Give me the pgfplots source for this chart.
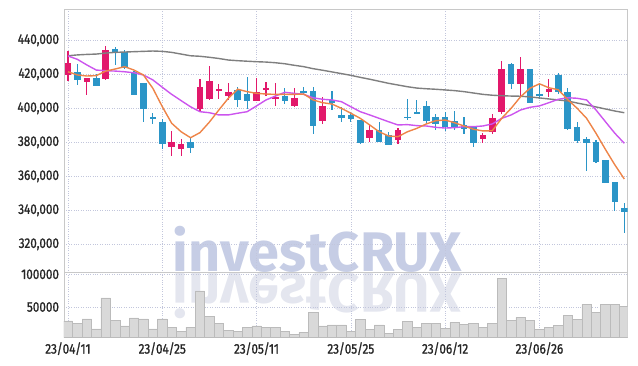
\documentclass[border=0pt]{standalone}
\usepackage{fontspec}
\setmainfont{Fira Sans}[FakeStretch=0.84, FakeBold=1.2]
\newfontfamily\wmfont{Fira Sans Bold}
\usepackage{pgfplots}
\pgfplotsset{compat=1.18}
\usepackage{pgfplotstable}
\definecolor{upc}{HTML}{E2186B}
\definecolor{dnc}{HTML}{2B95C7}
\definecolor{ma5c}{HTML}{EE8448}
\definecolor{ma20c}{HTML}{CC55EE}
\definecolor{ma60c}{HTML}{7F7F7F}
\definecolor{gridc}{HTML}{C2C6DC}
\definecolor{framec}{HTML}{C8C8C8}
\definecolor{wm}{HTML}{C6CDE5}
\definecolor{wmr}{HTML}{E4E6EF}
\definecolor{volf}{HTML}{D9D9D9}
\definecolor{vold}{HTML}{BBBBBB}

\pgfplotstableread{
i o h l c
0 419600 433700 416200 426800
2 415700 417800 407800 417700
4 417200 436700 416800 434300
11 377100 386800 372100 380200
12 375900 381800 372100 379000
14 399400 417100 398000 412400
15 405700 424900 405100 416100
16 410200 414300 405300 411400
17 407400 414700 404900 409400
20 404500 417700 404300 409600
21 410800 415500 407100 411900
22 405800 414700 401400 406300
24 401400 411800 401000 406100
27 392700 406500 390800 401400
32 382700 390200 380400 387200
35 381400 388600 378800 387200
44 382100 385700 379400 384300
45 386200 396500 384700 394100
46 397800 428000 396500 422900
48 414500 430000 407200 422900
51 409800 417100 406500 411400
}\up

\pgfplotstableread{
i o h l c
1 421500 426100 413500 416700
3 417700 420200 413100 413300
5 435100 436200 425300 432900
6 433300 434300 423300 423500
7 421200 422100 407800 408000
8 414700 414900 391800 399400
9 395100 397100 390800 393900
10 391900 393700 375900 379200
13 380200 382900 373500 376800
18 410800 412400 400900 404900
19 408400 418200 399400 404500
23 407200 411800 402500 404500
25 410400 412400 407800 408800
26 410200 412400 384700 389600
28 404900 410200 399000 402900
29 396100 400900 392100 394500
30 395900 398000 391900 393700
31 393100 393200 378900 379400
33 387200 391900 380200 380400
34 384500 386100 378400 378600
36 395100 405300 393100 394100
37 397700 404900 396700 397100
38 401400 404500 390800 392700
39 394600 396700 387200 390500
40 394900 398000 386800 389200
41 392500 398400 387200 388400
42 390200 394700 384900 388000
43 389200 389300 377400 379800
47 426100 426700 411200 414500
49 422900 423100 402900 403300
50 408400 414700 405300 407000
52 419600 420600 408400 409400
53 409600 411800 387200 387800
54 389000 391800 379800 381000
55 382000 382900 363100 379800
56 380200 381400 367700 368400
57 369600 369700 355900 356200
58 356700 356700 339800 345100
59 341400 344500 326500 339100
}\dn

\pgfplotstableread{
i v m5 m20 m60
0 28600 421500 430800 430900
1 25500 419600 428800 431400
2 31700 419000 425500 431700
3 16400 419200 422500 431900
4 63800 421900 422100 432500
5 30100 423100 421900 432900
6 21000 424500 421500 433100
7 33200 422500 420900 433300
8 31700 419600 419600 433500
9 16400 411800 416700 433700
10 31700 401000 412400 433500
11 19400 391200 408200 432900
12 13300 386200 404500 431900
13 19400 382700 400900 430900
14 74500 385700 398000 430600
15 36200 391900 397400 430000
16 25000 399000 396100 429300
17 14400 405900 396100 428400
18 12800 411200 397100 428000
19 19400 409800 398000 427700
20 21000 408800 401400 427400
21 19400 408400 404900 427200
22 19400 408200 407200 426800
23 12800 408200 409400 426200
24 8700 408200 408800 425300
25 11300 408400 408200 424500
26 41900 404900 406200 423300
27 21000 403300 405300 422400
28 22500 402500 404900 421400
29 22500 400000 403900 420400
30 12800 397100 400900 419400
31 31200 394100 398000 418200
32 15900 390200 396100 417100
33 22500 386200 394100 415900
34 9800 383700 392100 414700
35 15900 383300 390200 413700
36 28100 386200 390400 412700
37 19000 388200 389800 411900
38 25100 390800 389600 411500
39 25100 392700 388800 411200
40 17400 393100 388400 410800
41 26600 391500 388600 410400
42 23600 389600 389200 409800
43 25100 387700 389200 409000
44 19000 386700 389600 408200
45 25100 386800 390800 407700
46 93900 394100 394100 407400
47 29700 400000 396100 407200
48 34300 406800 399000 407100
49 29700 411800 400600 406700
50 15900 414400 401400 406100
51 19000 412100 403300 405500
52 22000 410900 405300 404900
53 37300 405100 406200 404300
54 31200 400000 405900 403100
55 54100 394100 404900 402000
56 41900 385300 399000 400800
57 54100 375800 392100 399600
58 54100 366700 385300 398400
59 51100 358400 379400 397400
}\ma

\pgfplotsset{
  cstyle/.style={
    scale only axis, width=563.6bp,
    xmin=-0.42, xmax=59.35,
    axis line style={framec, line width=0.8bp},
    grid=major,
    major grid style={gridc, dotted, line width=0.6bp},
    major tick length=0pt,
    tick label style={font=\fontsize{14}{14}\selectfont, text=black!85},
    /pgf/number format/assume math mode=true,
    xtick={0,10,...,50},
    scaled y ticks=false,
    yticklabel style={xshift=-1.5bp},
    xticklabel style={yshift=-1.5bp},
  },
  wick/.style={mark=none, draw=none, forget plot,
    error bars/.cd, y dir=both, y explicit, error mark=none,
    error bar style={draw=#1, solid, line width=1.2bp}},
  body/.style={mark=none, draw=none, forget plot,
    error bars/.cd, y dir=both, y explicit, error mark=none,
    error bar style={draw=#1, solid, line width=6.6bp}},
}

\begin{document}
\begin{tikzpicture}
\useasboundingbox (-64bp,9bp) rectangle (574bp,-357bp);
\node[anchor=base, text=wm, font=\wmfont\fontsize{56}{56}\selectfont, inner sep=0pt] at (253.5bp,-262.5bp) {investCRUX};
\node[anchor=base, yscale=-1, text=wmr, font=\wmfont\fontsize{56}{56}\selectfont, inner sep=0pt] at (253.5bp,-264.5bp) {investCRUX};

\begin{axis}[cstyle, at={(0,0)}, anchor=north west,
  height=263.3bp, ymin=303530, ymax=458410,
  ytick={320000,340000,...,440000},
  yticklabel style={/pgf/number format/.cd, fixed, 1000 sep={,}},
  xticklabels={}]
\addplot[wick=dnc] table[x=i, y expr={(\thisrow{h}+\thisrow{l})/2}, y error expr={(\thisrow{h}-\thisrow{l})/2}] {\dn};
\addplot[body=dnc] table[x=i, y expr={(\thisrow{o}+\thisrow{c})/2}, y error expr={max(abs(\thisrow{o}-\thisrow{c})/2,500)}] {\dn};
\addplot[wick=upc] table[x=i, y expr={(\thisrow{h}+\thisrow{l})/2}, y error expr={(\thisrow{h}-\thisrow{l})/2}] {\up};
\addplot[body=upc] table[x=i, y expr={(\thisrow{o}+\thisrow{c})/2}, y error expr={max(abs(\thisrow{o}-\thisrow{c})/2,500)}] {\up};
\addplot[ma60c, line width=1.4bp, mark=none] table[x=i, y=m60] {\ma};
\addplot[ma20c, line width=1.4bp, mark=none] table[x=i, y=m20] {\ma};
\addplot[ma5c, line width=1.4bp, mark=none] table[x=i, y=m5] {\ma};
\end{axis}

\begin{axis}[cstyle, at={(0,-263.3bp)}, anchor=north west,
  height=65bp, ymin=3670, ymax=103060,
  ytick={50000,100000},
  yticklabel style={/pgf/number format/.cd, fixed, 1000 sep={}},
  xticklabels={23/04/11,23/04/25,23/05/11,23/05/25,23/06/12,23/06/26},
  ybar, bar width=1]
\addplot[fill=volf, draw=vold, line width=0.6bp] table[x=i, y=v] {\ma};
\end{axis}
\end{tikzpicture}
\end{document}
